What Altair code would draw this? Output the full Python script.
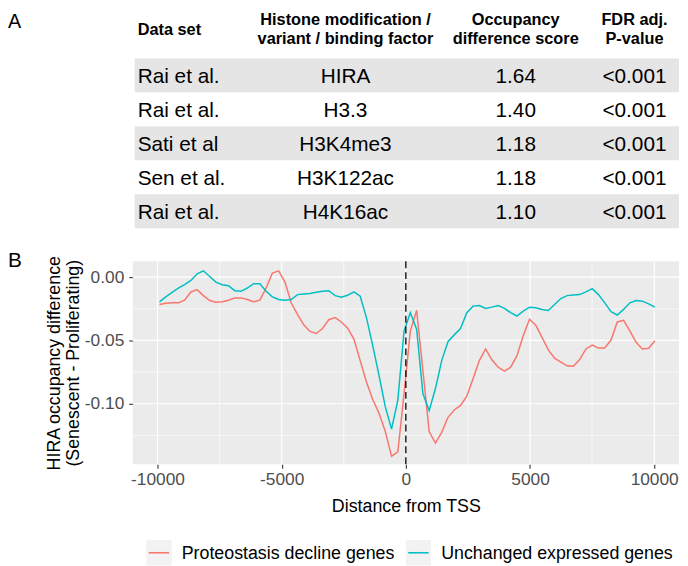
import altair as alt
import numpy as np
import pandas as pd

FONT = "Liberation Sans, Arial, Helvetica, sans-serif"

# ---------------- Panel A: table ----------------
datasets = ["Rai et al.", "Rai et al.", "Sati et al", "Sen et al.", "Rai et al."]
factors = ["HIRA", "H3.3", "H3K4me3", "H3K122ac", "H4K16ac"]
scores = ["1.64", "1.40", "1.18", "1.18", "1.10"]
pvalues = ["<0.001", "<0.001", "<0.001", "<0.001", "<0.001"]
headers = [["Data set"],
           ["Histone modification /", "variant / binding factor"],
           ["Occupancy", "difference score"],
           ["FDR adj.", "P-value"]]
panel_labels = ["A", "B"]

# ---------------- Panel B: profiles ----------------
series = ["Proteostasis decline genes", "Unchanged expressed genes"]
colors = ["#F8766D", "#00BFC4"]
distance = np.linspace(-9920, 10030, 80)
proteostasis = [
    -0.0216, -0.0206, -0.0203, -0.0203, -0.0182, -0.0117, -0.0099, -0.0146, -0.0185, -0.0198,
    -0.0195, -0.0182, -0.0164, -0.0164, -0.0177, -0.0195, -0.0182, -0.0086, 0.0032, 0.0050,
    -0.0039, -0.0203, -0.0294, -0.0377, -0.0429, -0.0445, -0.0406, -0.0336, -0.0320, -0.0354,
    -0.0403, -0.0489, -0.0659, -0.0828, -0.0966, -0.1075, -0.1218, -0.1414, -0.1380, -0.0919,
    -0.0424, -0.0263, -0.0737, -0.1219, -0.1310, -0.1226, -0.1107, -0.1049, -0.1013, -0.0940,
    -0.0802, -0.0659, -0.0567, -0.0653, -0.0711, -0.0742, -0.0711, -0.0620, -0.0463, -0.0333,
    -0.0380, -0.0476, -0.0575, -0.0640, -0.0672, -0.0700, -0.0703, -0.0651, -0.0567, -0.0536,
    -0.0560, -0.0560, -0.0497, -0.0354, -0.0341, -0.0424, -0.0515, -0.0567, -0.0562, -0.0502,
]
unchanged = [
    -0.0195, -0.0156, -0.0120, -0.0086, -0.0060, -0.0026, 0.0026, 0.0050, 0.0005, -0.0039,
    -0.0060, -0.0068, -0.0107, -0.0112, -0.0086, -0.0052, -0.0052, -0.0112, -0.0156, -0.0177,
    -0.0182, -0.0177, -0.0138, -0.0133, -0.0130, -0.0120, -0.0112, -0.0107, -0.0146, -0.0159,
    -0.0143, -0.0117, -0.0151, -0.0320, -0.0541, -0.0776, -0.1023, -0.1200, -0.0971, -0.0424,
    -0.0281, -0.0411, -0.0919, -0.1054, -0.0880, -0.0659, -0.0510, -0.0456, -0.0406, -0.0281,
    -0.0229, -0.0224, -0.0247, -0.0237, -0.0224, -0.0247, -0.0281, -0.0307, -0.0268, -0.0237,
    -0.0242, -0.0255, -0.0263, -0.0216, -0.0169, -0.0146, -0.0141, -0.0138, -0.0117, -0.0091,
    -0.0138, -0.0203, -0.0273, -0.0299, -0.0255, -0.0203, -0.0185, -0.0190, -0.0211, -0.0237,
]
x_major = [-10000, -5000, 0, 5000, 10000]
x_minor = [-7500, -2500, 2500, 7500]
y_major = [0.0, -0.05, -0.10]
y_minor = [-0.025, -0.075, -0.125]
tss_line = [0]

# ================= table chart =================
W = 552
tbl_df = pd.DataFrame({"row": list(range(1, 6)), "dataset": datasets, "factor": factors,
                       "score": scores, "pval": pvalues})
hdr_df = pd.DataFrame({"row": [0, 0, 0, 0], "col": [0, 1, 2, 3], "text": headers})

row_scale = alt.Scale(domain=[-0.8703, 5.5], reverse=True, nice=False, zero=False)
yrow = alt.Y("row:Q", scale=row_scale, axis=None)

bands = alt.Chart(tbl_df).transform_filter("datum.row % 2 == 1").transform_calculate(
    top="datum.row - 0.5", bot="datum.row + 0.5"
).mark_rect(color="#E5E5E5").encode(
    y=alt.Y("top:Q", scale=row_scale, axis=None),
    y2="bot:Q",
    x=alt.value(2), x2=alt.value(W),
)

col_x = [5, 215, 387, 507]
col_align = ["left", "center", "center", "center"]
hdr_dy = [-12, -22, -22, -22]
body_fields = ["dataset", "factor", "score", "pval"]

table_layers = [bands]
for k in range(4):
    table_layers.append(
        alt.Chart(hdr_df).transform_filter(f"datum.col == {k}").mark_text(
            align=col_align[k], baseline="middle", fontSize=16.5, fontWeight="bold",
            lineHeight=19.5, dy=hdr_dy[k], font=FONT, color="black"
        ).encode(x=alt.value(col_x[k]), y=yrow, text="text:N")
    )
    table_layers.append(
        alt.Chart(tbl_df).mark_text(
            align=col_align[k], baseline="middle", fontSize=21, dy=1.5, font=FONT, color="black"
        ).encode(x=alt.value(col_x[k]), y=yrow, text=f"{body_fields[k]}:N")
    )

a_label = alt.Chart(pd.DataFrame({"label": [panel_labels[0]]})).mark_text(
    align="left", baseline="alphabetic", fontSize=20, font=FONT, color="black"
).encode(x=alt.value(-126), y=alt.value(16), text="label:N")
table_layers.append(a_label)

table = alt.layer(*table_layers).properties(width=W, height=218.5)

# ================= line chart =================
df_lines = pd.DataFrame({
    "dist": list(distance) * 2,
    "value": proteostasis + unchanged,
    "series": [series[0]] * len(proteostasis) + [series[1]] * len(unchanged),
})
xsc = alt.Scale(domain=[-11000, 11000], nice=False, zero=False)
ysc = alt.Scale(domain=[-0.1477, 0.0125], nice=False, zero=False)
csc = alt.Scale(domain=series, range=colors)

x_axis = alt.Axis(
    values=x_major, title="Distance from TSS", grid=False, domain=False,
    tickColor="#333333", tickSize=4, tickWidth=1.1, labelFontSize=17.5, labelColor="#4D4D4D",
    labelFont=FONT, labelPadding=3, labelFlush=False,
    labelExpr="datum.value < 0 ? '-' + format(-datum.value, 'd') : format(datum.value, 'd')",
    titleFont=FONT, titleFontSize=18, titleFontWeight="normal", titleColor="black", titlePadding=9,
)
y_axis = alt.Axis(
    values=y_major, title=["HIRA occupancy difference", "(Senescent - Proliferating)"],
    grid=False, domain=False, tickColor="#333333", tickSize=4, tickWidth=1.1,
    labelFontSize=17.5, labelColor="#4D4D4D", labelFont=FONT, labelPadding=5,
    labelExpr="datum.value < 0 ? '-' + format(-datum.value, '.2f') : format(datum.value, '.2f')",
    titleFont=FONT, titleFontSize=18, titleFontWeight="normal", titleColor="black",
    titlePadding=2, titleLineHeight=19,
)

gx_minor = alt.Chart(pd.DataFrame({"v": x_minor})).mark_rule(color="white", strokeWidth=0.6).encode(
    x=alt.X("v:Q", scale=xsc, axis=x_axis))
gx_major = alt.Chart(pd.DataFrame({"v": x_major})).mark_rule(color="white", strokeWidth=1.2).encode(
    x=alt.X("v:Q", scale=xsc, axis=x_axis))
gy_minor = alt.Chart(pd.DataFrame({"v": y_minor})).mark_rule(color="white", strokeWidth=0.6).encode(
    y=alt.Y("v:Q", scale=ysc, axis=y_axis))
gy_major = alt.Chart(pd.DataFrame({"v": y_major})).mark_rule(color="white", strokeWidth=1.2).encode(
    y=alt.Y("v:Q", scale=ysc, axis=y_axis))

lines = alt.Chart(df_lines).mark_line(strokeWidth=1.5).encode(
    x=alt.X("dist:Q", scale=xsc, axis=x_axis),
    y=alt.Y("value:Q", scale=ysc, axis=y_axis),
    color=alt.Color("series:N", scale=csc, legend=None),
)
vline = alt.Chart(pd.DataFrame({"v": tss_line})).mark_rule(
    color="black", strokeDash=[7, 4], strokeWidth=1.3).encode(x=alt.X("v:Q", scale=xsc, axis=x_axis))

b_label = alt.Chart(pd.DataFrame({"label": [panel_labels[1]]})).mark_text(
    align="left", baseline="alphabetic", fontSize=21, font=FONT, color="black"
).encode(x=alt.value(-126), y=alt.value(6), text="label:N")

profile = alt.layer(gx_minor, gx_major, gy_minor, gy_major, lines, vline, b_label).properties(
    width=W, height=205, view=alt.ViewBackground(fill="#EBEBEB", strokeWidth=0))

# ================= legend =================
leg_df = pd.DataFrame({"series": series})
lx = alt.X("series:N", scale=alt.Scale(domain=series, range=[26.5, 288.7], padding=0), axis=None)
leg_box = alt.Chart(leg_df).mark_point(shape="square", size=650, filled=True, color="#F2F2F2",
                                       opacity=1, strokeWidth=0).encode(x=lx)
leg_key = alt.Chart(leg_df).mark_point(shape="stroke", size=424, strokeWidth=1.6, opacity=1,
                                       filled=False).encode(
    x=lx, color=alt.Color("series:N", scale=csc, legend=None))
leg_txt = alt.Chart(leg_df).mark_text(align="left", baseline="middle", dx=23, dy=1, fontSize=18,
                                      font=FONT, color="black").encode(x=lx, text="series:N")
legend = alt.layer(leg_box, leg_key, leg_txt).properties(width=W, height=31)

chart = alt.vconcat(table, profile, legend, spacing=22).properties(
    padding=0, background="white"
).configure_view(strokeWidth=0, stroke=None)

chart.save("out.html", embed_options={"renderer": "svg", "actions": False})
